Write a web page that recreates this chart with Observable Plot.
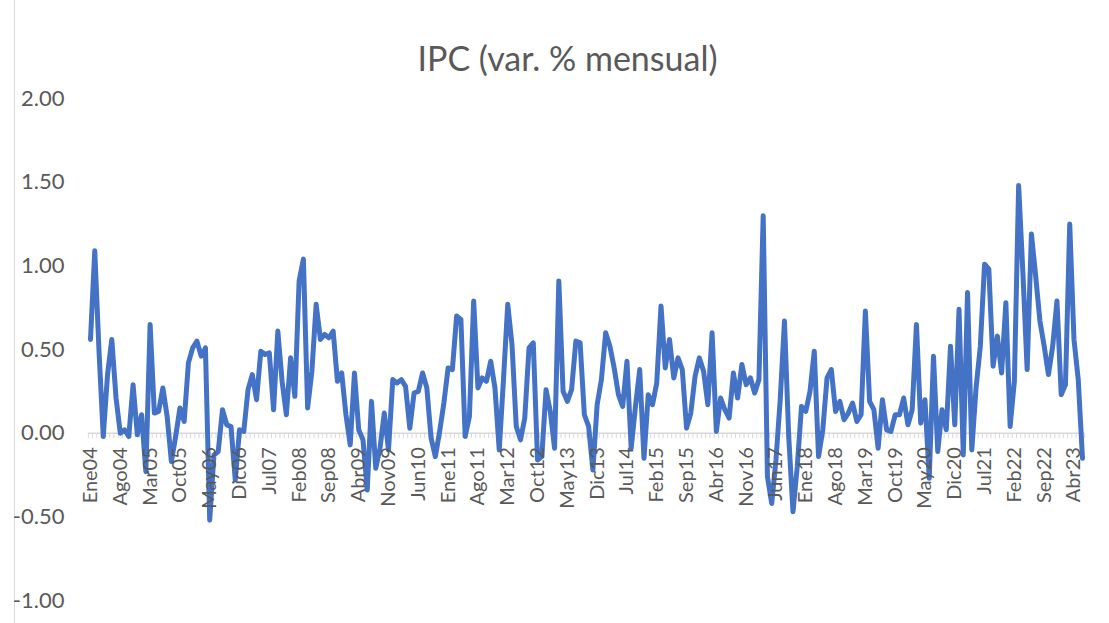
<!DOCTYPE html>
<html>
<head>
<meta charset="utf-8">
<script src="https://cdn.jsdelivr.net/npm/d3@7"></script>
<script src="https://cdn.jsdelivr.net/npm/@observablehq/plot@0.6"></script>
<style>
  body { margin: 0; background: #ffffff; }
  #chart { position: relative; width: 1109px; height: 623px; overflow: hidden; }
  #chart .edge { position: absolute; left: 14px; top: 0; bottom: 0; border-left: 1px solid #d9d9d9; }
  #chart svg { position: absolute; left: 0; top: 0; }
</style>
</head>
<body>
<div id="chart"><div class="edge"></div></div>
<script>
// Monthly CPI variation (%), Jan 2004 – Jun 2023
const y2004 = [0.56, 1.09, 0.49, -0.02, 0.35, 0.56, 0.21, 0.00, 0.02, -0.02, 0.29, -0.01];
const y2005 = [0.11, -0.23, 0.65, 0.12, 0.13, 0.27, 0.10, -0.17, -0.02, 0.15, 0.07, 0.42];
const y2006 = [0.51, 0.55, 0.46, 0.51, -0.52, -0.13, -0.11, 0.14, 0.05, 0.04, -0.28, 0.02];
const y2007 = [0.01, 0.26, 0.35, 0.20, 0.49, 0.47, 0.48, 0.14, 0.61, 0.31, 0.11, 0.45];
const y2008 = [0.22, 0.91, 1.04, 0.15, 0.37, 0.77, 0.56, 0.59, 0.57, 0.61, 0.31, 0.36];
const y2009 = [0.11, -0.07, 0.36, 0.02, -0.04, -0.34, 0.19, -0.21, -0.09, 0.12, -0.10, 0.32];
const y2010 = [0.30, 0.32, 0.28, 0.03, 0.24, 0.25, 0.36, 0.27, -0.03, -0.14, 0.01, 0.18];
const y2011 = [0.39, 0.38, 0.70, 0.68, -0.02, 0.10, 0.79, 0.27, 0.33, 0.31, 0.43, 0.27];
const y2012 = [-0.10, 0.32, 0.77, 0.53, 0.04, -0.04, 0.09, 0.51, 0.54, -0.16, -0.14, 0.26];
const y2013 = [0.13, -0.09, 0.91, 0.25, 0.19, 0.26, 0.55, 0.54, 0.11, 0.04, -0.22, 0.17];
const y2014 = [0.32, 0.60, 0.52, 0.39, 0.23, 0.16, 0.43, -0.09, 0.16, 0.38, -0.15, 0.23];
const y2015 = [0.17, 0.30, 0.76, 0.39, 0.56, 0.33, 0.45, 0.38, 0.03, 0.12, 0.34, 0.45];
const y2016 = [0.37, 0.17, 0.60, 0.01, 0.21, 0.14, 0.09, 0.36, 0.21, 0.41, 0.29, 0.33];
const y2017 = [0.24, 0.32, 1.30, -0.26, -0.42, -0.16, 0.20, 0.67, -0.02, -0.47, -0.20, 0.16];
const y2018 = [0.13, 0.25, 0.49, -0.14, 0.02, 0.33, 0.38, 0.13, 0.19, 0.08, 0.12, 0.18];
const y2019 = [0.07, 0.11, 0.73, 0.19, 0.14, -0.09, 0.20, 0.02, 0.01, 0.11, 0.11, 0.21];
const y2020 = [0.05, 0.14, 0.65, 0.06, 0.20, -0.27, 0.46, -0.11, 0.14, 0.02, 0.52, 0.05];
const y2021 = [0.74, -0.13, 0.84, -0.10, 0.27, 0.52, 1.01, 0.98, 0.40, 0.58, 0.36, 0.78];
const y2022 = [0.04, 0.31, 1.48, 0.96, 0.38, 1.19, 0.94, 0.67, 0.52, 0.35, 0.52, 0.79];
const y2023 = [0.23, 0.29, 1.25, 0.56, 0.32, -0.15];

const meses = ["Ene","Feb","Mar","Abr","May","Jun","Jul","Ago","Sep","Oct","Nov","Dic"];
const tickLabels = ["Ene04","Ago04","Mar05","Oct05","May06","Dic06","Jul07","Feb08","Sep08","Abr09",
  "Nov09","Jun10","Ene11","Ago11","Mar12","Oct12","May13","Dic13","Jul14","Feb15","Sep15","Abr16",
  "Nov16","Jun17","Ene18","Ago18","Mar19","Oct19","May20","Dic20","Jul21","Feb22","Sep22","Abr23"];
const yTicks = [-1, -0.5, 0, 0.5, 1, 1.5, 2];
const title = "IPC (var. % mensual)";

const values = [].concat(y2004, y2005, y2006, y2007, y2008, y2009, y2010, y2011, y2012, y2013,
  y2014, y2015, y2016, y2017, y2018, y2019, y2020, y2021, y2022, y2023);
const data = values.map((v, i) => ({
  i, v,
  label: meses[i % 12] + String(4 + Math.floor(i / 12)).padStart(2, "0")
}));
const labelIdx = data.filter(d => tickLabels.includes(d.label));
const boundaries = d3.range(values.length + 1).map(k => k - 0.5);
const n = values.length - 1;

const plot = Plot.plot({
  width: 1109,
  height: 623,
  marginLeft: 90,
  marginRight: 27,
  marginTop: 98,
  marginBottom: 23,
  x: { domain: [0, n], axis: null },
  y: { domain: [-1, 2] },
  style: { fontFamily: "Lato, 'Open Sans', sans-serif", color: "#595959", background: "transparent" },
  marks: [
    Plot.axisY({ ticks: yTicks, tickFormat: d => d.toFixed(2), tickSize: 0, tickPadding: 26,
      fontSize: 22, fill: "#595959", label: null }),
    Plot.ruleY([0], { x1: -0.5, x2: n + 0.5, stroke: "#d9d9d9", strokeWidth: 1.5 }),
    Plot.ruleX(boundaries, { x: d => d, y1: 0, y2: -0.032, stroke: "#d9d9d9", strokeWidth: 1 }),
    Plot.line(data, { x: "i", y: "v", stroke: "#4472C4", strokeWidth: 5,
      strokeLinejoin: "round", strokeLinecap: "round" }),
    Plot.text(labelIdx, { x: "i", y: 0, text: "label", rotate: -90, textAnchor: "end",
      lineAnchor: "middle", dy: 14, fontSize: 20, fill: "#595959" }),
    Plot.text([title], { frameAnchor: "top", dy: -38, dx: -19, lineAnchor: "middle",
      fontSize: 34, fill: "#595959" })
  ]
});
document.getElementById("chart").appendChild(plot);
</script>
</body>
</html>
